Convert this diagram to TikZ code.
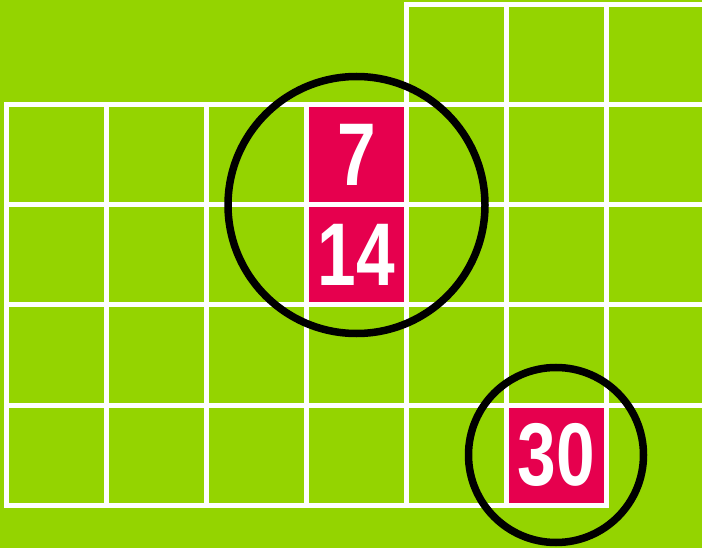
\documentclass[tikz,border=0pt]{standalone}
\usepackage{fontspec}
\usepackage{graphicx}
\setmainfont{Liberation Sans}
\definecolor{bggreen}{RGB}{148,212,0}
\definecolor{cellred}{RGB}{230,0,78}
\tikzset{
  gridline/.style={draw=white, line width=5pt, line cap=rect},
  numcell/.style={fill=cellred, draw=none, minimum size=100pt, inner sep=0pt, outer sep=0pt,
    text=white, font=\fontsize{89}{89}\selectfont\bfseries},
  ring/.style={draw=black, line width=7.5pt}
}
\newcommand{\cnum}[1]{\raisebox{-1.5pt}{\scalebox{0.78}[1]{#1}}}
\begin{document}
\begin{tikzpicture}[x=1pt,y=-1pt]
  \fill[bggreen] (0,0) rectangle (702,548);
  \useasboundingbox (0,0) rectangle (702,548);
  % highlighted cells
  \node[numcell] (c7)  at (356.5,155) {\cnum{7}};
  \node[numcell] (c14) at (356.5,255) {\cnum{14}};
  \node[numcell] (c30) at (556.5,455) {\cnum{30}};
  % grid
  \begin{scope}
    \clip (0,0) rectangle (702,548);
    \foreach \y in {105,205,305,405} \draw[gridline] (6.5,\y) -- (706.5,\y);
    \draw[gridline] (6.5,505) -- (606.5,505);
    \draw[gridline] (406.5,5) -- (706.5,5);
    \foreach \x in {6.5,106.5,206.5,306.5} \draw[gridline] (\x,105) -- (\x,505);
    \foreach \x in {406.5,506.5,606.5} \draw[gridline] (\x,5) -- (\x,505);
  \end{scope}
  % circles
  \draw[ring] (356.5,205) circle[radius=128.5];
  \draw[ring] (556,455) circle[radius=87.5];
\end{tikzpicture}
\end{document}
